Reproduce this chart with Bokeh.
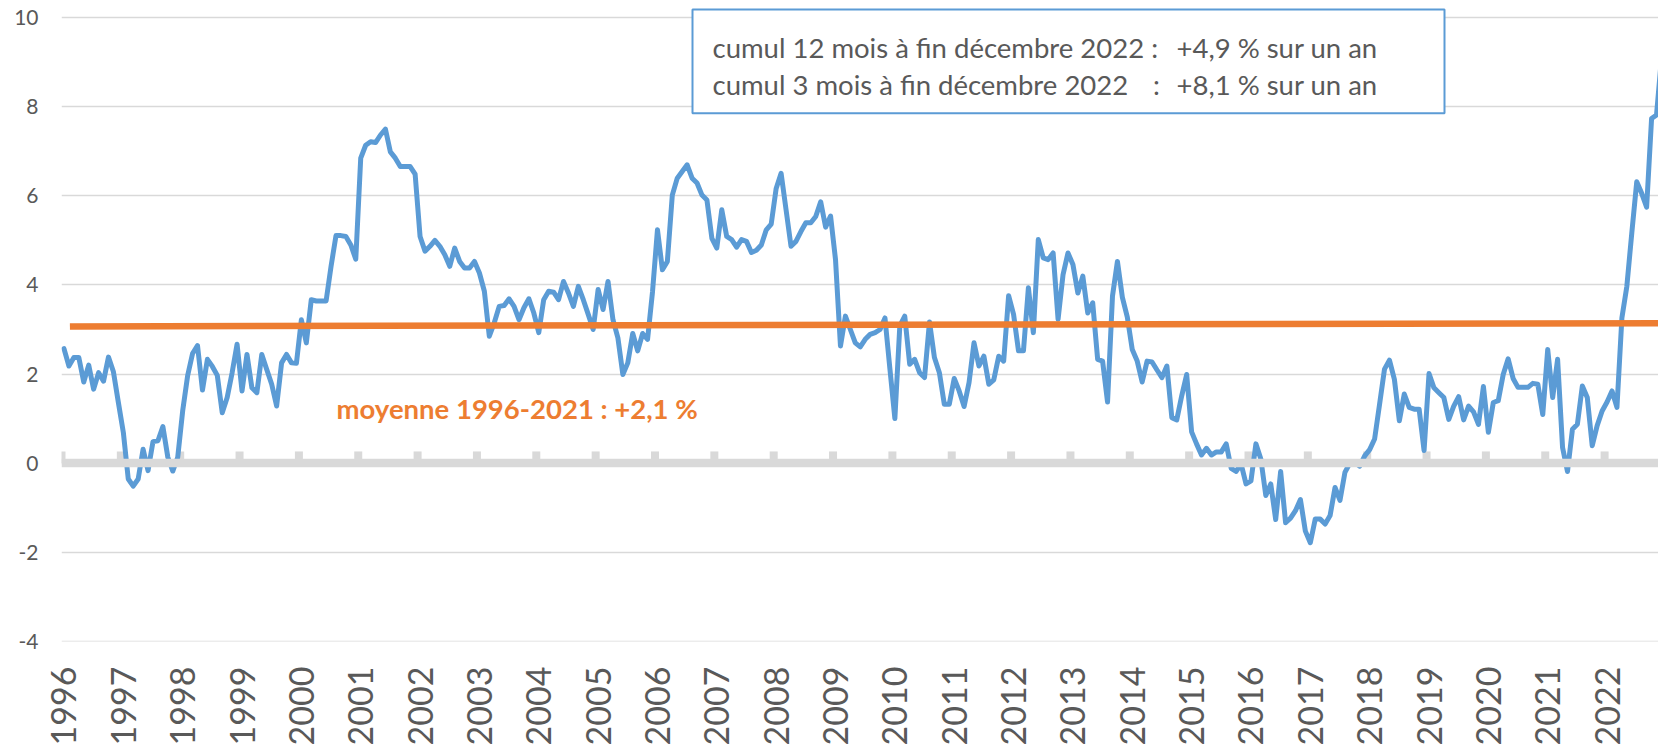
import math
from bokeh.plotting import figure
from bokeh.models import FixedTicker, Range1d, Span
from bokeh.core.properties import value
from bokeh.embed import file_html
from bokeh.resources import INLINE

# ---------------- data ----------------
annees = [str(y) for y in range(1996, 2023)]

# monthly values, Jan 1996 .. Dec 2022 (one row per year)
evolution = [
    2.57, 2.18, 2.37, 2.37, 1.82, 2.20, 1.66, 2.03, 1.84, 2.38, 2.05, 1.36,      # 1996
    0.69, -0.36, -0.52, -0.36, 0.31, -0.17, 0.48, 0.50, 0.82, 0.13, -0.18, 0.13,  # 1997
    1.17, 1.96, 2.46, 2.64, 1.64, 2.33, 2.17, 1.97, 1.13, 1.47, 2.03, 2.67,      # 1998
    1.62, 2.44, 1.69, 1.58, 2.44, 2.10, 1.77, 1.28, 2.25, 2.44, 2.25, 2.24,      # 1999
    3.22, 2.70, 3.67, 3.64, 3.64, 3.64, 4.42, 5.11, 5.11, 5.09, 4.90, 4.58,      # 2000
    6.85, 7.14, 7.22, 7.20, 7.37, 7.50, 6.99, 6.85, 6.66, 6.66, 6.66, 6.49,      # 2001
    5.09, 4.76, 4.87, 5.00, 4.87, 4.68, 4.42, 4.83, 4.53, 4.38, 4.38, 4.53,      # 2002
    4.27, 3.86, 2.85, 3.15, 3.52, 3.54, 3.69, 3.52, 3.22, 3.49, 3.69, 3.37,      # 2003
    2.93, 3.67, 3.86, 3.84, 3.67, 4.08, 3.82, 3.52, 3.97, 3.67, 3.34, 3.00,      # 2004
    3.90, 3.45, 4.08, 3.22, 2.81, 1.99, 2.25, 2.91, 2.52, 2.91, 2.78, 3.85,      # 2005
    5.24, 4.34, 4.53, 6.02, 6.40, 6.55, 6.70, 6.40, 6.29, 6.02, 5.91, 5.05,      # 2006
    4.83, 5.69, 5.09, 5.02, 4.85, 5.02, 4.98, 4.73, 4.78, 4.90, 5.24, 5.37,      # 2007
    6.17, 6.51, 5.69, 4.87, 4.98, 5.20, 5.40, 5.40, 5.54, 5.87, 5.30, 5.55,      # 2008
    4.57, 2.63, 3.30, 3.00, 2.70, 2.61, 2.78, 2.89, 2.93, 3.00, 3.26, 2.11,      # 2009
    1.00, 3.08, 3.30, 2.22, 2.33, 2.03, 1.92, 3.17, 2.37, 2.03, 1.32, 1.32,      # 2010
    1.90, 1.62, 1.27, 1.81, 2.70, 2.18, 2.40, 1.77, 1.87, 2.40, 2.29, 3.76,      # 2011
    3.34, 2.52, 2.52, 3.94, 2.93, 5.02, 4.61, 4.57, 4.72, 3.23, 4.23, 4.72,      # 2012
    4.46, 3.82, 4.20, 3.37, 3.60, 2.33, 2.29, 1.37, 3.75, 4.53, 3.72, 3.28,      # 2013
    2.55, 2.29, 1.82, 2.29, 2.27, 2.09, 1.92, 2.18, 1.02, 0.97, 1.51, 1.99,      # 2014
    0.70, 0.43, 0.18, 0.33, 0.18, 0.25, 0.25, 0.43, -0.12, -0.19, -0.02, -0.47,  # 2015
    -0.40, 0.43, 0.09, -0.73, -0.47, -1.27, -0.19, -1.34, -1.24, -1.07, -0.82, -1.53,  # 2016
    -1.79, -1.26, -1.26, -1.37, -1.18, -0.55, -0.84, -0.21, 0.00, 0.01, -0.07, 0.16,   # 2017
    0.30, 0.54, 1.32, 2.11, 2.31, 1.88, 0.95, 1.55, 1.25, 1.21, 1.21, 0.28,      # 2018
    2.01, 1.69, 1.58, 1.47, 0.98, 1.28, 1.49, 0.97, 1.28, 1.15, 0.87, 1.72,      # 2019
    0.69, 1.36, 1.40, 1.99, 2.34, 1.90, 1.70, 1.70, 1.70, 1.79, 1.77, 1.09,      # 2020
    2.55, 1.47, 2.33, 0.35, -0.19, 0.76, 0.87, 1.73, 1.47, 0.39, 0.84, 1.17,     # 2021
    1.37, 1.62, 1.25, 3.26, 3.97, 5.17, 6.32, 6.06, 5.75, 7.74, 7.82, 9.10,      # 2022
]
mois = list(range(len(evolution)))

moyenne_x = [1.2, 324.0]
moyenne_y = [3.07, 3.14]

y_ticks = [-4, -2, 0, 2, 4, 6, 8, 10]
texte_moyenne = "moyenne 1996-2021 : +2,1 %"
cadre_gauche = ["cumul 12 mois à fin décembre 2022 :", "cumul 3 mois à fin décembre 2022"]
cadre_deux_points = ["", ":"]
cadre_droite = ["+4,9 % sur un an", "+8,1 % sur un an"]

# ---------------- layout ----------------
W, H = 1658, 748
FRAME_LEFT = 61
X_START, X_END = -0.5, 322.4
S_Y = 44.65
Y_START = -4.01
Y_END = 10 + 17.5 / S_Y
S_X = (W - FRAME_LEFT) / (X_END - X_START)

def xd(wx):  # page pixel -> data x
    return X_START + (wx - FRAME_LEFT) / S_X

def yd(wy):  # page pixel -> data y
    return Y_END - wy / S_Y

BLUE = "#5B9BD5"
ORANGE = "#ED7D31"
GREY_TXT = "#595959"
GRID = "#D9D9D9"
FONT = "Lato"

p = figure(width=W, height=H, output_backend="svg", toolbar_location=None,
           x_range=Range1d(X_START, X_END), y_range=Range1d(Y_START, Y_END),
           min_border_left=FRAME_LEFT, min_border_right=0,
           min_border_top=0, min_border_bottom=0)
p.outline_line_color = None
p.background_fill_color = "white"
p.border_fill_color = "white"

# axes
p.xaxis.ticker = FixedTicker(ticks=[12 * i for i in range(len(annees))])
p.xaxis.major_label_overrides = {12 * i: a for i, a in enumerate(annees)}
p.xaxis.major_label_orientation = math.pi / 2
p.xaxis.axis_line_color = None
p.xaxis.major_tick_line_color = None
p.xaxis.minor_tick_line_color = None
p.xaxis.major_tick_out = 0
p.xaxis.major_tick_in = 0
p.xaxis.major_label_standoff = 25
p.xaxis.major_label_text_font = FONT
p.xaxis.major_label_text_font_size = "34px"
p.xaxis.major_label_text_color = GREY_TXT

p.yaxis.ticker = FixedTicker(ticks=y_ticks)
p.yaxis.major_label_overrides = {t: str(t) for t in y_ticks}
p.yaxis.axis_line_color = None
p.yaxis.major_tick_line_color = None
p.yaxis.minor_tick_line_color = None
p.yaxis.major_tick_out = 0
p.yaxis.major_tick_in = 0
p.yaxis.major_label_standoff = 23
p.yaxis.major_label_text_font = FONT
p.yaxis.major_label_text_font_size = "21px"
p.yaxis.major_label_text_color = GREY_TXT

p.xgrid.visible = False
p.ygrid.grid_line_color = GRID
p.ygrid.grid_line_width = 1.5

# zero axis line and its tick marks
p.add_layout(Span(location=0, dimension="width", line_color=GRID, line_width=8.3))
tick_x = [12 * i - 0.5 for i in range(len(annees))]
p.segment(x0=tick_x, y0=[0] * len(tick_x), x1=tick_x, y1=[0.26] * len(tick_x),
          line_color=GRID, line_width=8, line_cap="butt")

# series
p.line(mois, evolution, line_color=BLUE, line_width=5, line_join="round", line_cap="round")
p.line(moyenne_x, moyenne_y, line_color=ORANGE, line_width=6.5, line_cap="butt")

p.text(x=[xd(336)], y=[yd(409)], text=[texte_moyenne], text_font=value(FONT),
       text_font_style="bold", text_font_size="27.5px", text_color=ORANGE,
       text_baseline="alphabetic", text_align="left")

# box
p.quad(left=[xd(692)], right=[xd(1444)], top=[yd(9)], bottom=[yd(113)],
       fill_color="white", line_color=BLUE, line_width=2)
base_y = [yd(47.5), yd(84.6)]
p.text(x=[xd(712)] * 2, y=base_y, text=cadre_gauche, text_font=value(FONT),
       text_font_size="27.5px", text_color=GREY_TXT, text_baseline="alphabetic", text_align="left")
p.text(x=[xd(1156)] * 2, y=base_y, text=cadre_deux_points, text_font=value(FONT),
       text_font_size="27.5px", text_color=GREY_TXT, text_baseline="alphabetic", text_align="center")
p.text(x=[xd(1176)] * 2, y=base_y, text=cadre_droite, text_font=value(FONT),
       text_font_size="27.5px", text_color=GREY_TXT, text_baseline="alphabetic", text_align="left")

open("out.html", "w").write(file_html(p, INLINE))
